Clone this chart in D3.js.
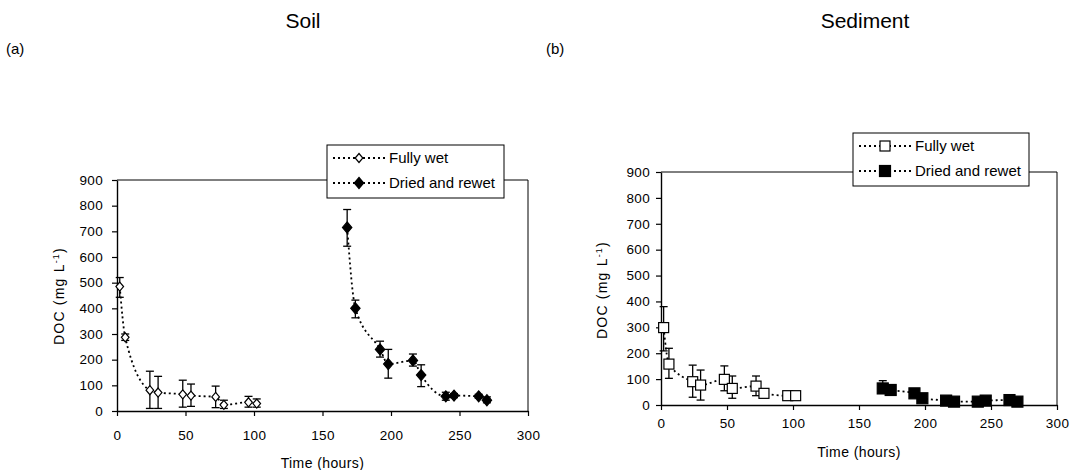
<!DOCTYPE html>
<html>
<head>
<meta charset="utf-8">
<script src="https://cdn.jsdelivr.net/npm/d3@7"></script>
<style>
  body { margin: 0; background: #fff; }
  text { font-family: "Liberation Sans", Arial, sans-serif; fill: #000; }
</style>
</head>
<body>
<div id="chart"></div>
<script>
// times (hours)
var wetTime = [2, 6, 24, 30, 48, 54, 72, 78, 96, 102];
var dryTime = [168, 174, 192, 198, 216, 222, 240, 246, 264, 270];

// Soil - DOC (mg/L), with error bar ends
var soilWet   = [485, 287, 81, 72, 65, 60, 55, 24, 34, 29];
var soilWetHi = [520, 300, 155, 135, 120, 105, 97, 42, 57, 47];
var soilWetLo = [443, 275, 10, 10, 15, 18, 13, 10, 15, 15];
var soilDry   = [715, 400, 240, 183, 197, 140, 57, 60, 57, 42];
var soilDryHi = [785, 432, 272, 240, 222, 180, 73, 68, 65, 55];
var soilDryLo = [642, 363, 210, 128, 175, 95, 42, 52, 50, 32];

// Sediment
var sedWet   = [299, 158, 90, 77, 99, 64, 73, 45, 36, 36];
var sedWetHi = [380, 219, 154, 135, 151, 112, 112, 50, 40, 40];
var sedWetLo = [209, 103, 30, 19, 55, 26, 36, 40, 32, 32];
var sedDry   = [64, 58, 45, 26, 17, 13, 13, 17, 19, 13];
var sedDryHi = [94, 65, 50, 30, 20, 16, 16, 20, 22, 16];
var sedDryLo = [45, 52, 40, 22, 14, 10, 10, 14, 16, 10];

var xTicks = [0, 50, 100, 150, 200, 250, 300];
var yTicks = [0, 100, 200, 300, 400, 500, 600, 700, 800, 900];
var seriesNames = ["Fully wet", "Dried and rewet"];

var svg = d3.select("#chart").append("svg")
    .attr("width", 1072)
    .attr("height", 470);

function rows(t, v, hi, lo) {
    return t.map(function(d, i) { return {t: d, v: v[i], hi: hi[i], lo: lo[i]}; });
}

function marker(g, shape, filled, x, y) {
    if (shape == "diamond") {
        var s = filled ? 5.5 : 4.5;
        g.append("path")
            .attr("d", "M" + x + "," + (y - s) + "L" + (x + s * 0.85) + "," + y + "L" + x + "," + (y + s) + "L" + (x - s * 0.85) + "," + y + "Z")
            .attr("fill", filled ? "#000" : "#fff")
            .attr("stroke", "#000").attr("stroke-width", 1.2);
    } else {
        var h = filled ? 5.5 : 5;
        g.append("rect")
            .attr("x", x - h).attr("y", y - h)
            .attr("width", h * 2).attr("height", h * 2)
            .attr("fill", filled ? "#000" : "#fff")
            .attr("stroke", "#000").attr("stroke-width", 1.2);
    }
}

function drawPanel(p) {
    var x = d3.scaleLinear().domain([0, 300]).range([p.left, p.right]);
    var y = d3.scaleLinear().domain([0, 900]).range([p.bottom, p.top]);
    var g = svg.append("g");

    // plot box top and right
    g.append("path")
        .attr("d", "M" + p.left + "," + p.top + "H" + p.right + "V" + p.bottom)
        .attr("fill", "none").attr("stroke", "#000").attr("stroke-width", 1);

    var ya = g.append("g")
        .attr("transform", "translate(" + p.left + ",0)")
        .call(d3.axisLeft(y).tickValues(yTicks).tickSize(5).tickSizeOuter(0).tickPadding(p.yPad));
    var xa = g.append("g")
        .attr("transform", "translate(0," + p.bottom + ")")
        .call(d3.axisBottom(x).tickValues(xTicks).tickSize(5).tickSizeOuter(0).tickPadding(p.xPad));
    [ya, xa].forEach(function(a) {
        a.selectAll("text").style("font-size", "13.5px").attr("fill", "#000")
            .style("font-family", "'Liberation Sans', Arial, sans-serif")
            .style("letter-spacing", "0.3px");
        a.selectAll("line").attr("stroke", "#000").attr("stroke-width", 1.2);
        a.select(".domain").attr("stroke", "#000").attr("stroke-width", 1.4);
    });

    g.append("text")
        .attr("x", (p.left + p.right) / 2).attr("y", p.xTitleY)
        .attr("text-anchor", "middle").style("font-size", "14px")
        .style("letter-spacing", "0.4px")
        .text("Time (hours)");

    var yl = g.append("text")
        .attr("transform", "translate(" + p.yTitleX + "," + p.yTitleY + ") rotate(-90)")
        .attr("text-anchor", "middle").style("font-size", "14px")
        .style("letter-spacing", "1.2px");
    yl.append("tspan").text("DOC (mg L");
    yl.append("tspan").attr("dy", -5).style("font-size", "9px").text("-1");
    yl.append("tspan").attr("dy", 5).text(")");

    g.append("text")
        .attr("x", p.titleX).attr("y", 28)
        .attr("text-anchor", "middle").style("font-size", "21px")
        .text(p.title);
    g.append("text")
        .attr("x", p.tagX).attr("y", 54)
        .style("font-size", "15px")
        .text(p.tag);

    var line = d3.line()
        .x(function(d) { return x(d.t); })
        .y(function(d) { return y(d.v); })
        .curve(d3.curveMonotoneX);

    p.series.forEach(function(s) {
        var data = rows(s.t, s.v, s.hi, s.lo);
        g.append("path").datum(data)
            .attr("d", line)
            .attr("fill", "none").attr("stroke", "#000")
            .attr("stroke-width", 1.8).attr("stroke-dasharray", "2,3");

        var eb = g.append("g").selectAll("g").data(data).join("g");
        eb.append("line")
            .attr("x1", function(d) { return x(d.t); }).attr("x2", function(d) { return x(d.t); })
            .attr("y1", function(d) { return y(d.hi); }).attr("y2", function(d) { return y(d.lo); })
            .attr("stroke", "#000").attr("stroke-width", 1.3);
        ["hi", "lo"].forEach(function(k) {
            eb.append("line")
                .attr("x1", function(d) { return x(d.t) - 4; }).attr("x2", function(d) { return x(d.t) + 4; })
                .attr("y1", function(d) { return y(d[k]); }).attr("y2", function(d) { return y(d[k]); })
                .attr("stroke", "#000").attr("stroke-width", 1.3);
        });

        data.forEach(function(d) { marker(g, p.shape, s.filled, x(d.t), y(d.v)); });
    });

    // legend
    var L = p.legend;
    g.append("rect")
        .attr("x", L.x).attr("y", L.y).attr("width", L.w).attr("height", L.h)
        .attr("fill", "#fff").attr("stroke", "#000").attr("stroke-width", 1);
    seriesNames.forEach(function(name, i) {
        var ry = L.y + 13 + i * 25;
        g.append("line")
            .attr("x1", L.x + 6).attr("x2", L.x + 58)
            .attr("y1", ry).attr("y2", ry)
            .attr("stroke", "#000").attr("stroke-width", 1.8).attr("stroke-dasharray", "2,3");
        marker(g, p.shape, i == 1, L.x + 32, ry);
        g.append("text")
            .attr("x", L.x + 62).attr("y", ry + 5)
            .style("font-size", "15px")
            .text(name);
    });
}

drawPanel({
    left: 117, right: 528, top: 180, bottom: 411,
    yPad: 9, xPad: 14, xTitleY: 468, yTitleX: 64, yTitleY: 296,
    title: "Soil", titleX: 303, tag: "(a)", tagX: 6,
    shape: "diamond",
    legend: {x: 327, y: 145, w: 177, h: 53},
    series: [
        {t: wetTime, v: soilWet, hi: soilWetHi, lo: soilWetLo, filled: false},
        {t: dryTime, v: soilDry, hi: soilDryHi, lo: soilDryLo, filled: true}
    ]
});

drawPanel({
    left: 661, right: 1057, top: 172, bottom: 405,
    yPad: 6, xPad: 8, xTitleY: 457, yTitleX: 607, yTitleY: 290,
    title: "Sediment", titleX: 865, tag: "(b)", tagX: 546,
    shape: "square",
    legend: {x: 853, y: 133, w: 176, h: 53},
    series: [
        {t: wetTime, v: sedWet, hi: sedWetHi, lo: sedWetLo, filled: false},
        {t: dryTime, v: sedDry, hi: sedDryHi, lo: sedDryLo, filled: true}
    ]
});
</script>
</body>
</html>
